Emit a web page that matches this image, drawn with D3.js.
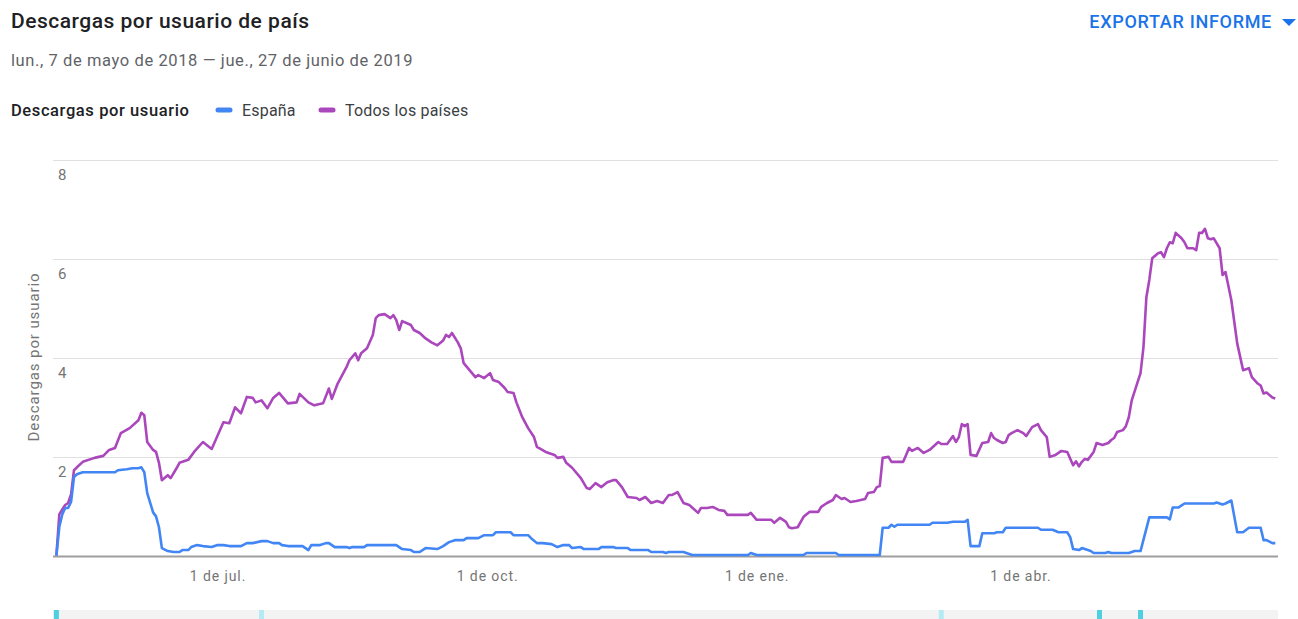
<!DOCTYPE html>
<html>
<head>
<meta charset="utf-8">
<script src="https://cdn.jsdelivr.net/npm/d3@7"></script>
<style>
  html, body { margin: 0; padding: 0; background: #ffffff; }
  svg { display: block; font-family: Roboto, "Noto Sans", sans-serif; }
</style>
</head>
<body>
<svg id="chart" width="1298" height="619"></svg>
<script>
// ---------- DATA ----------
const chartTitle = "Descargas por usuario de país";
const dateRangeText = "lun., 7 de mayo de 2018 — jue., 27 de junio de 2019";
const legendTitle = "Descargas por usuario";
const seriesNames = ["España", "Todos los países"];
const exportLabel = "EXPORTAR INFORME";
const yAxisTitle = "Descargas por usuario";

const domainStart = "2018-05-07";
const domainEnd = "2019-06-27";

const xTickDates = ["2018-07-01", "2018-10-01", "2019-01-01", "2019-04-01"];
const xTickLabels = ["1 de jul.", "1 de oct.", "1 de ene.", "1 de abr."];
const yTicks = [2, 4, 6, 8];
const yMax = 8;

// Todos los países
const todosDates = [
"2018-05-07","2018-05-08","2018-05-09","2018-05-10","2018-05-11","2018-05-12","2018-05-13","2018-05-14","2018-05-16","2018-05-20",
"2018-05-23","2018-05-25","2018-05-27","2018-05-29","2018-06-01","2018-06-04","2018-06-05","2018-06-06","2018-06-07","2018-06-09",
"2018-06-10","2018-06-11","2018-06-12","2018-06-14","2018-06-15","2018-06-17","2018-06-18","2018-06-21","2018-06-23","2018-06-26",
"2018-06-29","2018-07-03","2018-07-05","2018-07-07","2018-07-09","2018-07-11","2018-07-13","2018-07-14","2018-07-16","2018-07-18",
"2018-07-20","2018-07-22","2018-07-25","2018-07-28","2018-07-29","2018-08-01","2018-08-03","2018-08-06","2018-08-08","2018-08-09",
"2018-08-11","2018-08-14","2018-08-15","2018-08-17","2018-08-18","2018-08-19","2018-08-21","2018-08-23","2018-08-24","2018-08-25",
"2018-08-27","2018-08-29","2018-08-30","2018-08-31","2018-09-01","2018-09-02","2018-09-05","2018-09-06","2018-09-08","2018-09-10",
"2018-09-12","2018-09-14","2018-09-16","2018-09-17","2018-09-18","2018-09-19","2018-09-21","2018-09-22","2018-09-23","2018-09-25",
"2018-09-27","2018-09-28","2018-09-30","2018-10-02","2018-10-03","2018-10-05","2018-10-07","2018-10-08","2018-10-10","2018-10-11",
"2018-10-13","2018-10-15","2018-10-17","2018-10-18","2018-10-21","2018-10-24","2018-10-25","2018-10-27","2018-10-28","2018-10-30",
"2018-11-02","2018-11-04","2018-11-05","2018-11-07","2018-11-09","2018-11-11","2018-11-13","2018-11-14","2018-11-16","2018-11-18",
"2018-11-21","2018-11-22","2018-11-24","2018-11-26","2018-11-28","2018-11-30","2018-12-02","2018-12-03","2018-12-05","2018-12-07",
"2018-12-09","2018-12-12","2018-12-13","2018-12-15","2018-12-17","2018-12-19","2018-12-21","2018-12-22","2018-12-29","2018-12-30",
"2019-01-01","2019-01-06","2019-01-07","2019-01-09","2019-01-11","2019-01-12","2019-01-13","2019-01-15","2019-01-17","2019-01-19",
"2019-01-22","2019-01-23","2019-01-25","2019-01-27","2019-01-28","2019-01-30","2019-01-31","2019-02-02","2019-02-04","2019-02-07",
"2019-02-08","2019-02-10","2019-02-11","2019-02-12","2019-02-13","2019-02-15","2019-02-16","2019-02-20","2019-02-21","2019-02-22",
"2019-02-23","2019-02-25","2019-02-27","2019-03-01","2019-03-04","2019-03-05","2019-03-07","2019-03-09","2019-03-10","2019-03-11",
"2019-03-12","2019-03-13","2019-03-14","2019-03-15","2019-03-17","2019-03-19","2019-03-21","2019-03-22","2019-03-23","2019-03-24",
"2019-03-26","2019-03-27","2019-03-28","2019-03-29","2019-03-31","2019-04-02","2019-04-03","2019-04-05","2019-04-07","2019-04-08",
"2019-04-10","2019-04-11","2019-04-13","2019-04-15","2019-04-17","2019-04-19","2019-04-20","2019-04-21","2019-04-22","2019-04-23",
"2019-04-24","2019-04-26","2019-04-27","2019-04-29","2019-05-01","2019-05-02","2019-05-03","2019-05-04","2019-05-06","2019-05-07",
"2019-05-08","2019-05-09","2019-05-11","2019-05-12","2019-05-13","2019-05-14","2019-05-15","2019-05-16","2019-05-18","2019-05-19",
"2019-05-20","2019-05-21","2019-05-22","2019-05-23","2019-05-24","2019-05-26","2019-05-27","2019-05-28","2019-05-30","2019-05-31",
"2019-06-01","2019-06-02","2019-06-03","2019-06-04","2019-06-05","2019-06-06","2019-06-08","2019-06-09","2019-06-10","2019-06-12",
"2019-06-14","2019-06-16","2019-06-18","2019-06-19","2019-06-21","2019-06-22","2019-06-23","2019-06-24","2019-06-26","2019-06-27"
];
const todosValues = [
0.02,0.85,0.95,1.04,1.08,1.25,1.74,1.80,1.91,1.99,
2.03,2.15,2.19,2.49,2.59,2.75,2.90,2.85,2.31,2.15,
2.11,1.89,1.54,1.64,1.58,1.78,1.89,1.95,2.11,2.31,
2.17,2.71,2.69,3.01,2.89,3.22,3.20,3.11,3.15,2.99,
3.20,3.30,3.09,3.11,3.28,3.11,3.05,3.09,3.39,3.18,
3.49,3.82,3.96,4.10,3.96,4.10,4.20,4.47,4.81,4.87,
4.89,4.81,4.87,4.77,4.57,4.75,4.67,4.57,4.51,4.40,
4.32,4.26,4.36,4.47,4.43,4.51,4.32,4.20,3.90,3.76,
3.62,3.66,3.60,3.70,3.56,3.52,3.40,3.32,3.30,3.11,
2.81,2.59,2.41,2.21,2.11,2.05,1.99,2.01,1.89,1.79,
1.58,1.38,1.36,1.48,1.40,1.50,1.54,1.54,1.40,1.20,
1.18,1.14,1.20,1.08,1.12,1.08,1.24,1.24,1.30,1.08,
1.04,0.88,0.98,0.98,1.00,0.94,0.92,0.84,0.84,0.88,
0.74,0.74,0.68,0.78,0.70,0.59,0.57,0.59,0.80,0.90,
0.90,1.00,1.08,1.14,1.24,1.16,1.18,1.10,1.12,1.16,
1.28,1.30,1.40,1.42,1.99,2.01,1.91,1.91,2.05,2.19,
2.13,2.19,2.09,2.15,2.31,2.27,2.27,2.43,2.31,2.41,
2.67,2.63,2.67,2.05,2.03,2.29,2.31,2.49,2.39,2.35,
2.29,2.31,2.45,2.49,2.55,2.49,2.43,2.61,2.67,2.55,
2.41,2.01,2.05,2.13,2.11,1.84,1.92,1.82,1.91,1.97,
1.95,2.11,2.29,2.25,2.29,2.35,2.39,2.51,2.55,2.63,
2.81,3.15,3.52,3.70,4.22,5.23,5.58,6.02,6.12,6.14,
6.04,6.22,6.34,6.32,6.53,6.42,6.34,6.22,6.22,6.18,
6.53,6.53,6.61,6.42,6.40,6.42,6.22,5.68,5.74,5.17,
4.30,3.76,3.80,3.62,3.49,3.45,3.29,3.31,3.21,3.19
];

// España
const espanaDates = [
"2018-05-07","2018-05-08","2018-05-09","2018-05-10","2018-05-11","2018-05-12","2018-05-13","2018-05-14","2018-05-16","2018-05-27",
"2018-05-28","2018-05-31","2018-06-02","2018-06-04","2018-06-05","2018-06-06","2018-06-07","2018-06-09","2018-06-10","2018-06-11",
"2018-06-12","2018-06-14","2018-06-16","2018-06-18","2018-06-19","2018-06-21","2018-06-22","2018-06-24","2018-06-26","2018-06-29",
"2018-07-01","2018-07-03","2018-07-05","2018-07-09","2018-07-11","2018-07-13","2018-07-16","2018-07-18","2018-07-20","2018-07-22",
"2018-07-23","2018-07-25","2018-07-30","2018-08-01","2018-08-02","2018-08-05","2018-08-07","2018-08-08","2018-08-10","2018-08-14",
"2018-08-15","2018-08-16","2018-08-20","2018-08-21","2018-08-31","2018-09-02","2018-09-05","2018-09-06","2018-09-08","2018-09-10",
"2018-09-14","2018-09-16","2018-09-18","2018-09-20","2018-09-23","2018-09-24","2018-09-28","2018-09-30","2018-10-03","2018-10-04",
"2018-10-09","2018-10-10","2018-10-15","2018-10-16","2018-10-18","2018-10-20","2018-10-23","2018-10-25","2018-10-27","2018-10-29",
"2018-10-30","2018-11-02","2018-11-03","2018-11-08","2018-11-09","2018-11-13","2018-11-14","2018-11-18","2018-11-19","2018-11-25",
"2018-11-26","2018-11-30","2018-12-01","2018-12-02","2018-12-07","2018-12-10","2018-12-29","2018-12-30","2019-01-01","2019-01-17",
"2019-01-18","2019-01-28","2019-01-29","2019-02-12","2019-02-13","2019-02-15","2019-02-16","2019-02-17","2019-02-18","2019-03-01",
"2019-03-02","2019-03-07","2019-03-09","2019-03-13","2019-03-14","2019-03-15","2019-03-18","2019-03-19","2019-03-23","2019-03-24",
"2019-03-26","2019-03-27","2019-04-07","2019-04-08","2019-04-12","2019-04-14","2019-04-17","2019-04-18","2019-04-19","2019-04-21",
"2019-04-22","2019-04-24","2019-04-25","2019-04-26","2019-04-30","2019-05-01","2019-05-02","2019-05-08","2019-05-10","2019-05-12",
"2019-05-15","2019-05-21","2019-05-22","2019-05-23","2019-05-25","2019-05-27","2019-06-06","2019-06-07","2019-06-09","2019-06-10",
"2019-06-12","2019-06-14","2019-06-16","2019-06-18","2019-06-22","2019-06-23","2019-06-24","2019-06-26","2019-06-27"
];
const espanaValues = [
0.02,0.60,0.85,0.98,0.98,1.10,1.60,1.66,1.70,1.70,
1.74,1.76,1.78,1.78,1.80,1.70,1.28,0.89,0.81,0.59,
0.17,0.11,0.09,0.09,0.13,0.13,0.19,0.23,0.21,0.19,
0.23,0.23,0.21,0.21,0.27,0.27,0.31,0.31,0.27,0.27,
0.23,0.21,0.21,0.13,0.23,0.23,0.27,0.27,0.19,0.19,
0.17,0.19,0.19,0.23,0.23,0.15,0.13,0.09,0.09,0.17,
0.15,0.21,0.29,0.33,0.33,0.37,0.37,0.43,0.43,0.49,
0.49,0.43,0.43,0.37,0.27,0.27,0.25,0.19,0.23,0.23,
0.17,0.19,0.15,0.15,0.19,0.19,0.17,0.17,0.13,0.13,
0.09,0.09,0.07,0.09,0.09,0.03,0.03,0.07,0.03,0.03,
0.07,0.07,0.03,0.03,0.58,0.58,0.64,0.60,0.64,0.64,
0.68,0.68,0.70,0.70,0.74,0.21,0.21,0.47,0.47,0.49,
0.49,0.58,0.58,0.54,0.54,0.49,0.49,0.39,0.15,0.13,
0.17,0.13,0.11,0.07,0.07,0.09,0.07,0.07,0.11,0.11,
0.79,0.79,0.75,0.99,0.99,1.07,1.07,1.09,1.05,1.07,
1.13,0.49,0.49,0.58,0.58,0.33,0.33,0.27,0.27
];

// Annotation markers in the timeline strip below the chart
const markerDates = ["2018-05-07", "2018-07-16", "2019-03-05", "2019-04-28", "2019-05-12"];
const markerStrong = [true, false, false, true, true];

// ---------- STYLE ----------
const colors = { espana: "#4285f4", todos: "#ab47bc" };
const plot = { left: 56.4, right: 1275.3, top: 160, bottom: 556.5, gridLeft: 53, gridRight: 1278 };

const parse = d3.utcParse("%Y-%m-%d");
const svg = d3.select("#chart");

const x = d3.scaleUtc().domain([parse(domainStart), parse(domainEnd)]).range([plot.left, plot.right]);
const y = d3.scaleLinear().domain([0, yMax]).range([plot.bottom, plot.top]);

// Header
svg.append("text").attr("x", 11).attr("y", 28)
  .attr("font-size", 21).attr("font-weight", 500).attr("letter-spacing", 0.5).attr("fill", "#202124")
  .text(chartTitle);
svg.append("text").attr("x", 11).attr("y", 66)
  .attr("font-size", 16.5).attr("letter-spacing", 0.6).attr("fill", "#5f6368")
  .text(dateRangeText);

// Export button
svg.append("text").attr("x", 1272).attr("y", 28).attr("text-anchor", "end")
  .attr("font-size", 18).attr("font-weight", 500).attr("letter-spacing", 0.7).attr("fill", "#1a73e8")
  .text(exportLabel);
svg.append("path").attr("d", "M1282,19 L1296,19 L1289,26 Z").attr("fill", "#1a73e8");

// Legend
const legendG = svg.append("g");
legendG.append("text").attr("x", 11).attr("y", 116)
  .attr("font-size", 16.5).attr("font-weight", 500).attr("letter-spacing", 0.6).attr("fill", "#202124")
  .text(legendTitle);
const legendItems = [
  { name: seriesNames[0], color: colors.espana, x0: 216 },
  { name: seriesNames[1], color: colors.todos, x0: 319 }
];
legendItems.forEach(it => {
  legendG.append("line").attr("x1", it.x0 + 2).attr("x2", it.x0 + 14)
    .attr("y1", 110).attr("y2", 110)
    .attr("stroke", it.color).attr("stroke-width", 5).attr("stroke-linecap", "round");
  legendG.append("text").attr("x", it.x0 + 26).attr("y", 116)
    .attr("font-size", 16).attr("letter-spacing", 0.2).attr("fill", "#3c4043").text(it.name);
});

// Gridlines
svg.append("g").selectAll("line").data(yTicks).join("line")
  .attr("x1", plot.gridLeft).attr("x2", plot.gridRight)
  .attr("y1", d => Math.round(y(d)) + 0.5).attr("y2", d => Math.round(y(d)) + 0.5)
  .attr("stroke", "#e0e0e0").attr("stroke-width", 1);

// Y tick labels (below gridlines)
svg.append("g").selectAll("text").data(yTicks).join("text")
  .attr("x", 58).attr("y", d => y(d) + 20)
  .attr("font-size", 15).attr("fill", "#757575")
  .text(d => d);

// Y axis title
svg.append("text")
  .attr("transform", "translate(39,357) rotate(-90)")
  .attr("text-anchor", "middle").attr("font-size", 15).attr("letter-spacing", 0.9).attr("fill", "#757575")
  .text(yAxisTitle);

// X axis via d3.axisBottom
const xAxis = d3.axisBottom(x)
  .tickValues(xTickDates.map(parse))
  .tickFormat((d, i) => xTickLabels[i])
  .tickSize(0).tickPadding(14);
const xg = svg.append("g").attr("transform", `translate(0,${plot.bottom + 1})`).call(xAxis);
xg.select(".domain").remove();
xg.selectAll("text").attr("font-size", 14).attr("letter-spacing", 0.9).attr("fill", "#757575")
  .attr("font-family", "Roboto, sans-serif");

// Lines
const line = d3.line().x(d => x(d.date)).y(d => y(d.value)).curve(d3.curveLinear);
const todos = todosDates.map((d, i) => ({ date: parse(d), value: todosValues[i] }));
const espana = espanaDates.map((d, i) => ({ date: parse(d), value: espanaValues[i] }));

// baseline
svg.append("line").attr("x1", plot.gridLeft).attr("x2", plot.gridRight)
  .attr("y1", plot.bottom).attr("y2", plot.bottom)
  .attr("stroke", "#9e9e9e").attr("stroke-width", 2);

svg.append("path").datum(todos).attr("d", line)
  .attr("fill", "none").attr("stroke", colors.todos).attr("stroke-width", 2.6)
  .attr("stroke-linejoin", "round");
svg.append("path").datum(espana).attr("d", line)
  .attr("fill", "none").attr("stroke", colors.espana).attr("stroke-width", 2.6)
  .attr("stroke-linejoin", "round");

// Timeline strip
svg.append("rect").attr("x", plot.gridLeft).attr("y", 610)
  .attr("width", plot.gridRight - plot.gridLeft).attr("height", 9).attr("fill", "#f3f3f3");
svg.append("g").selectAll("rect").data(markerDates).join("rect")
  .attr("x", d => x(parse(d)) - 2.5).attr("y", 610)
  .attr("width", 5).attr("height", 9)
  .attr("fill", (d, i) => markerStrong[i] ? "#4dd0e1" : "#b2ebf2");
</script>
</body>
</html>
